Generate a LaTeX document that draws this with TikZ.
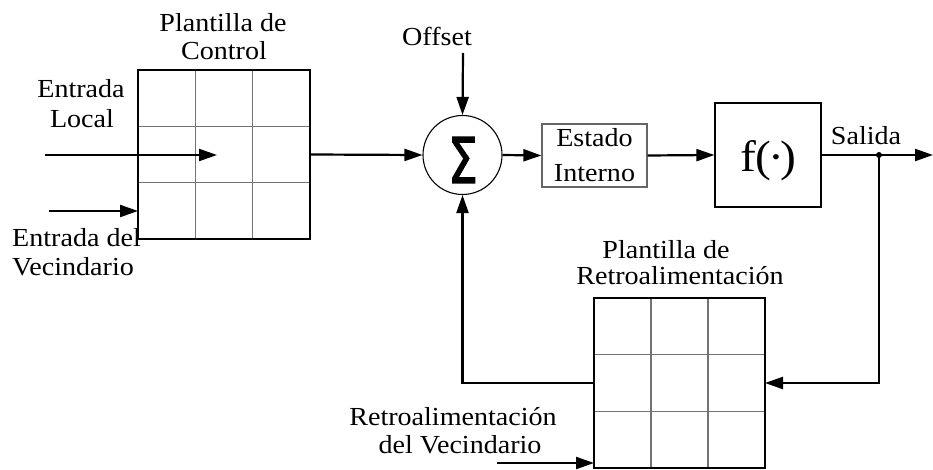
\documentclass[tikz,border=0pt]{standalone}
\usepackage{fontspec}
\setmainfont{Liberation Serif}[FakeStretch=1.08]
\newfontfamily\sigmafont{DejaVu Sans}[FakeBold=2]
\usetikzlibrary{arrows.meta,calc}
\begin{document}
\begin{tikzpicture}[x=1pt,y=-1pt,
  lbl/.style={font=\fontsize{26}{29}\selectfont, inner sep=0pt, anchor=base},
  lblw/.style={font=\fontsize{26}{29}\selectfont, inner sep=0pt, anchor=base west},
  conn/.style={line width=2.2pt, -{Triangle[length=18pt,width=12pt]}},
  gridframe/.style={line width=2.2pt},
  gridline/.style={draw=black!55, line width=1.2pt},
  cell/.style={inner sep=0pt, outer sep=0pt}]
\useasboundingbox (0,0) rectangle (933,470);

% control template
\node[cell, minimum width=172pt, minimum height=169pt] (ctl) at (224,154.5) {};
\foreach \f in {0.3333,0.6667} {
  \draw[gridline] ($(ctl.north west)!\f!(ctl.north east)$) -- ($(ctl.south west)!\f!(ctl.south east)$);
  \draw[gridline] ($(ctl.north west)!\f!(ctl.south west)$) -- ($(ctl.north east)!\f!(ctl.south east)$);
}
\draw[gridframe] (ctl.north west) rectangle (ctl.south east);

% feedback template
\node[cell, minimum width=171pt, minimum height=170pt] (fbk) at (679.5,383) {};
\foreach \f in {0.3333,0.6667} {
  \draw[gridline] ($(fbk.north west)!\f!(fbk.north east)$) -- ($(fbk.south west)!\f!(fbk.south east)$);
  \draw[gridline] ($(fbk.north west)!\f!(fbk.south west)$) -- ($(fbk.north east)!\f!(fbk.south east)$);
}
\draw[gridframe] (fbk.north west) rectangle (fbk.south east);

% summation
\node[circle, draw, line width=1.1pt, minimum size=79pt, inner sep=0pt] (sum) at (462.5,155) {};
\node[inner sep=0pt] (sigma) at (463,160) {\scalebox{0.75}[1]{\sigmafont\fontsize{63}{63}\selectfont Σ}};

% internal state
\node[draw=black!60, line width=1.2pt, minimum width=105pt, minimum height=63pt,
      align=center, font=\fontsize{26}{35}\selectfont, inner sep=0pt] (est) at (594.5,155.5) {Estado\\Interno};

% output function
\node[draw, line width=1.2pt, minimum width=106pt, minimum height=104pt, inner sep=0pt] (fbox) at (768,155) {};
\node[inner sep=0pt, font=\fontsize{44}{44}\selectfont] (ftxt) at (768,161) {f(\raisebox{0.17em}{\scalebox{0.5}{•}})};

% labels
\node[lbl] (pc1) at (223,32) {Plantilla de};
\node[lbl] (pc2) at (224,60) {Control};
\node[lbl] (el1) at (81,98) {Entrada};
\node[lbl] (el2) at (82,128) {Local};
\node[lblw] (ev1) at (12,247) {Entrada del};
\node[lblw] (ev2) at (12,275) {Vecindario};
\node[lbl] (off) at (437,46) {Offset};
\node[lbl] (sal) at (866,145) {Salida};
\node[lbl] (pr1) at (666,258) {Plantilla de};
\node[lbl] (pr2) at (680,284) {Retroalimentación};
\node[lbl] (rv1) at (453,425) {Retroalimentación};
\node[lbl] (rv2) at (460,453) {del Vecindario};

% connectors
\coordinate (elocS) at (45,155);
\coordinate (elocE) at (217,155);
\draw[conn] (elocS) -- (elocE);
\coordinate (evecS) at (49,211);
\draw[conn] (evecS) -- (ctl.west |- evecS);
\draw[conn] (ctl.east) -- (sum.west);
\coordinate (offS) at (463,53);
\draw[conn] (offS) -- (sum.north);
\draw[conn] (sum.east) -- (est.west);
\draw[conn] (est.east) -- (fbox.west);
\coordinate (outE) at (933,155);
\draw[conn] (fbox.east) -- (outE);
\coordinate (jn) at (879,155);
\fill (jn) circle (3pt);
\draw[conn] (jn) |- (fbk.east);
\draw[conn] (fbk.west) -| (sum.south);
\coordinate (rvS) at (497,463);
\draw[conn] (rvS) -- (fbk.west |- rvS);
\end{tikzpicture}
\end{document}
